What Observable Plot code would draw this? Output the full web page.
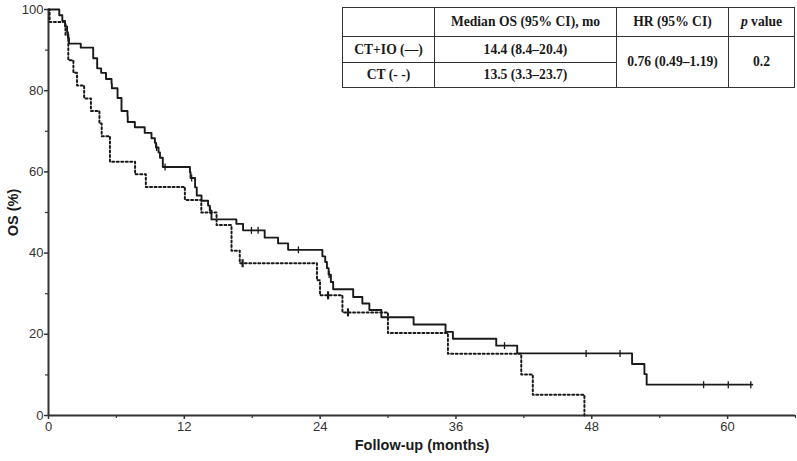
<!DOCTYPE html>
<html>
<head>
<meta charset="utf-8">
<script src="https://cdn.jsdelivr.net/npm/d3@7"></script>
<script src="https://cdn.jsdelivr.net/npm/@observablehq/plot@0.6"></script>
<style>
  body { margin: 0; background: #fff; }
  #wrap { position: relative; width: 797px; height: 461px; }
  #stats {
    position: absolute; left: 342px; top: 7px;
    border-collapse: collapse; table-layout: fixed;
    font-family: "Liberation Serif", "Times New Roman", serif;
    font-weight: bold; font-size: 13.6px; color: #1a1a1a; background: #fff;
  }
  #stats td { border: 1px solid #333; text-align: center; vertical-align: middle; padding: 0; }
</style>
</head>
<body>
<div id="wrap"></div>
<script>
// Overall survival, Kaplan–Meier steps (time in months, survival in %)
const ctioTime = [0, 0.95, 1.22, 1.46, 1.64, 1.72, 1.81, 2.85, 3.95, 4.3, 4.65, 5.08, 5.57, 5.6, 6.1, 6.45, 6.98, 7.0, 7.63, 8.5, 9.1, 9.4, 9.5, 9.72, 9.85, 10.1, 12.5, 12.55, 12.95, 13.1, 13.52, 14.1, 14.25, 14.4, 16.6, 17.19, 19.1, 20.28, 21.17, 24.2, 24.45, 24.6, 24.75, 24.95, 25.15, 26.92, 27.73, 28.35, 29.41, 32.26, 35.08, 35.73, 39.56, 41.41, 51.56, 52.65, 52.85, 62.18];
const ctioSurv = [100, 98.6, 97.2, 95.8, 94.4, 93.0, 91.6, 90.6, 88.0, 85.5, 84.4, 82.9, 81.7, 80.6, 78.2, 75.0, 73.7, 72.3, 71.0, 69.6, 68.3, 67.2, 66.0, 64.8, 63.5, 61.2, 59.9, 58.5, 56.2, 54.2, 52.9, 51.7, 50.5, 48.3, 47.2, 45.6, 43.8, 42.4, 40.8, 39.2, 37.8, 36.3, 34.7, 32.9, 31.1, 29.2, 27.6, 26.0, 24.2, 22.4, 20.6, 18.9, 17.2, 15.3, 12.7, 10.2, 7.6, 7.6];
const ctioCensorTime = [9.55, 10.3, 12.65, 14.3, 17.93, 18.52, 22.08, 24.8, 40.29, 47.5, 50.5, 57.88, 60.06, 62.05];
const ctioCensorSurv = [66.0, 61.2, 58.5, 50.5, 45.6, 45.6, 40.8, 34.7, 17.2, 15.3, 15.3, 7.6, 7.6, 7.6];

const ctTime = [0, 0.1, 1.5, 1.75, 2.2, 2.52, 3.15, 3.75, 4.5, 4.7, 5.43, 7.65, 8.6, 12.05, 13.5, 14.85, 16.17, 16.9, 23.72, 23.99, 25.97, 29.99, 35.29, 41.77, 42.79, 47.35];
const ctSurv = [100, 96.9, 93.8, 87.5, 84.4, 81.3, 78.1, 75.0, 71.9, 68.8, 62.5, 59.4, 56.3, 53.1, 50.0, 46.9, 40.6, 37.5, 33.3, 29.6, 25.4, 20.3, 15.2, 10.1, 5.1, 0];
const ctCensorTime = [17.15, 24.7, 26.46];
const ctCensorSurv = [37.5, 29.6, 25.4];

// Axis ticks
const xTicks = [0, 12, 24, 36, 48, 60];
const xMinorTicks = [6, 18, 30, 42, 54, 66];
const yTicks = [0, 20, 40, 60, 80, 100];
const yMinorTicks = [10, 30, 50, 70, 90];

// Summary table
const tableHeader = ["", "Median OS (95% CI), mo", "HR (95% CI)", "value"];
const groups = ["CT+IO (—)", "CT (- -)"];
const medians = ["14.4 (8.4–20.4)", "13.5 (3.3–23.7)"];
const hazardRatio = "0.76 (0.49–1.19)";
const pValue = "0.2";

const zip = (t, s) => t.map((d, i) => ({t: d, s: s[i]}));
const ctio = zip(ctioTime, ctioSurv);
const ct = zip(ctTime, ctSurv);
const ctioCensored = zip(ctioCensorTime, ctioCensorSurv);
const ctCensored = zip(ctCensorTime, ctCensorSurv);

// short vertical censoring tick
const censorTick = {
  draw(ctx, size) {
    const r = Math.sqrt(size / Math.PI);
    ctx.moveTo(0, -r);
    ctx.lineTo(0, r);
  }
};

const ink = "#1a1a1a";
const axisInk = "#333";

const chart = Plot.plot({
  width: 797,
  height: 461,
  marginLeft: 48,
  marginRight: 2,
  marginTop: 9,
  marginBottom: 46,
  style: {
    fontFamily: '"Liberation Sans", Arial, sans-serif',
    fontSize: "13px",
    color: axisInk,
    background: "#fff"
  },
  x: {domain: [0, 66]},
  y: {domain: [0, 100]},
  marks: [
    Plot.axisX({ticks: xTicks, tickSize: 4, tickPadding: 2, label: null, strokeWidth: 1.5}),
    Plot.axisX({ticks: xMinorTicks, tickSize: 3, text: null, label: null, strokeWidth: 1.2}),
    Plot.axisY({ticks: yTicks, tickSize: 4, tickPadding: 1, label: null, strokeWidth: 1.5}),
    Plot.axisY({ticks: yMinorTicks, tickSize: 3, text: null, label: null, strokeWidth: 1.2}),
    Plot.ruleY([0], {stroke: axisInk, strokeWidth: 2}),
    Plot.ruleX([0], {stroke: axisInk, strokeWidth: 2}),
    Plot.line(ct, {x: "t", y: "s", curve: "step-after", stroke: ink, strokeWidth: 2, strokeDasharray: "2,2.5"}),
    Plot.line(ctio, {x: "t", y: "s", curve: "step-after", stroke: ink, strokeWidth: 1.9}),
    Plot.dot(ctCensored, {x: "t", y: "s", symbol: censorTick, r: 4, fill: "none", stroke: ink, strokeWidth: 2.2}),
    Plot.dot(ctioCensored, {x: "t", y: "s", symbol: censorTick, r: 3.5, fill: "none", stroke: ink, strokeWidth: 1.3}),
    Plot.text(["Follow-up (months)"], {frameAnchor: "bottom", dy: 34, fontWeight: "bold", fontSize: 14.5, fill: ink}),
    Plot.text(["OS (%)"], {frameAnchor: "left", textAnchor: "middle", lineAnchor: "middle", dx: -35, rotate: -90, fontWeight: "bold", fontSize: 14.5, fill: ink})
  ]
});

const wrap = document.getElementById("wrap");
wrap.appendChild(chart);

// Statistics table laid over the upper right of the plot
const table = document.createElement("table");
table.id = "stats";
const colWidths = [92, 182, 112, 66];
const colgroup = document.createElement("colgroup");
colWidths.forEach(w => {
  const c = document.createElement("col");
  c.style.width = w + "px";
  colgroup.appendChild(c);
});
table.appendChild(colgroup);

const headRow = table.insertRow();
headRow.style.height = "29px";
tableHeader.forEach((h, i) => {
  const cell = headRow.insertCell();
  if (i === 3) {
    const em = document.createElement("i");
    em.textContent = "p";
    cell.appendChild(em);
    cell.appendChild(document.createTextNode(" " + h));
  } else {
    cell.textContent = h;
  }
});
groups.forEach((g, i) => {
  const row = table.insertRow();
  row.style.height = i === 0 ? "26px" : "25px";
  row.insertCell().textContent = g;
  row.insertCell().textContent = medians[i];
  if (i === 0) {
    const hr = row.insertCell();
    hr.rowSpan = 2;
    hr.textContent = hazardRatio;
    const p = row.insertCell();
    p.rowSpan = 2;
    p.textContent = pValue;
  }
});
wrap.appendChild(table);
</script>
</body>
</html>
